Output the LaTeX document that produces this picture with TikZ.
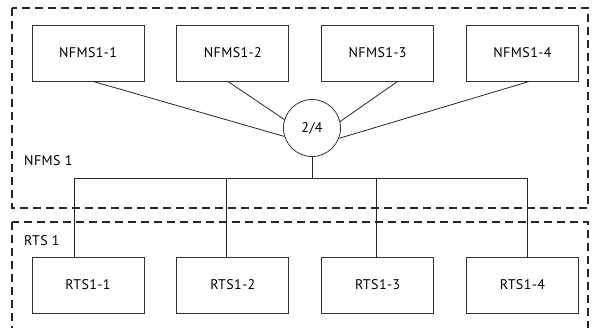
\documentclass[tikz,border=0pt]{standalone}
\usepackage{fontspec}
\setmainfont[LetterSpace=3]{PT Sans}
\usepackage{tikz}
\usetikzlibrary{positioning, calc}

\begin{document}
\begin{tikzpicture}[
    x=1pt, y=-1pt,
    node distance=32pt,
    unit/.style={rectangle, draw=black!80, line width=0.8pt, minimum width=112pt, minimum height=56pt, inner sep=0pt, font=\fontsize{14}{16}\selectfont},
    voter/.style={circle, draw=black!80, line width=0.8pt, minimum size=57pt, inner sep=0pt, font=\fontsize{14}{16}\selectfont},
    zone/.style={draw=black!85, line width=1.6pt, dash pattern=on 8pt off 5pt},
    zonelabel/.style={anchor=west, inner sep=0pt, font=\fontsize{14}{16}\selectfont},
    wire/.style={draw=black!85, line width=0.8pt}
]
\useasboundingbox (0,0) rectangle (593,327);

% zones
\draw[zone] (12,8) rectangle (588,208);
\draw[zone] (12,222) rectangle (588,345);
\node[zonelabel] (nfms-label) at (24,161) {NFMS 1};
\node[zonelabel] (rts-label) at (24,241) {RTS 1};

% NFMS units
\node[unit] (nfms1) at (88,53) {NFMS1-1};
\node[unit, right=of nfms1] (nfms2) {NFMS1-2};
\node[unit, right=of nfms2] (nfms3) {NFMS1-3};
\node[unit, right=of nfms3] (nfms4) {NFMS1-4};

% voting
\node[voter] (vote) at (312,128) {2/4};

% RTS units
\node[unit] (rts1) at (88,285) {RTS1-1};
\node[unit, right=of rts1] (rts2) {RTS1-2};
\node[unit, right=of rts2] (rts3) {RTS1-3};
\node[unit, right=of rts3] (rts4) {RTS1-4};

% wiring
\draw[wire] ([xshift=5pt]nfms1.south) -- (vote.197);
\draw[wire] ([xshift=-5pt]nfms2.south) -- (vote.163);
\draw[wire] ([xshift=20pt]nfms3.south) -- (vote.13);
\draw[wire] ([xshift=7pt]nfms4.south) -- (vote.-21);

\coordinate (bus) at (312,178);
\coordinate (d1) at ([xshift=-14pt]rts1.north);
\coordinate (d2) at ([xshift=-6pt]rts2.north);
\coordinate (d3) at ([xshift=-1pt]rts3.north);
\coordinate (d4) at ([xshift=5pt]rts4.north);
\draw[wire] (vote.south) -- (bus);
\draw[wire] (d1) |- (d4 |- bus) -- (d4);
\draw[wire] (d2) -- (d2 |- bus);
\draw[wire] (d3) -- (d3 |- bus);

\end{tikzpicture}
\end{document}
